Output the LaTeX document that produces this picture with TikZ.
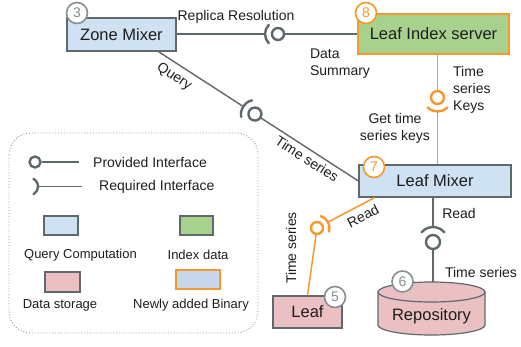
\documentclass[tikz,border=0pt]{standalone}
\usepackage{fontspec}
\setmainfont{Liberation Sans}
\usetikzlibrary{calc}
\definecolor{lgray}{RGB}{95,105,108}
\definecolor{orng}{RGB}{245,152,45}
\definecolor{qblue}{RGB}{207,226,243}
\definecolor{igreen}{RGB}{169,209,142}
\definecolor{spink}{RGB}{234,192,195}
\definecolor{bgray}{RGB}{135,143,146}
\definecolor{nblue}{RGB}{200,216,236}
\definecolor{dotc}{RGB}{130,155,180}
\definecolor{txt}{RGB}{30,30,30}
\begin{document}
\begin{tikzpicture}[x=1pt,y=-1pt,
 box/.style={draw=lgray, line width=1.2pt, inner sep=0pt, text=txt, font=\fontsize{16.5}{18}\selectfont},
 badge/.style={circle, draw=bgray, fill=white, line width=1.6pt, minimum size=21pt, inner sep=0pt, text=bgray, font=\fontsize{14}{16}\selectfont},
 obadge/.style={badge, draw=orng, text=orng},
 ball/.style={circle, fill=white, line width=2.4pt, inner sep=0pt},
 conn/.style={draw=lgray, line width=1.4pt},
 oconn/.style={draw=orng, line width=1.5pt},
 socket/.style={line width=2.4pt, line cap=round},
 lbl/.style={font=\fontsize{14}{17}\selectfont, text=txt, inner sep=0pt},
 leg/.style={font=\fontsize{13}{15}\selectfont, text=txt, inner sep=0pt},
]
\useasboundingbox[fill=white] (0,0) rectangle (521,346);

% main boxes
\node[box, fill=qblue, minimum width=109pt, minimum height=33pt] (zm) at (121.5,34.5) {Zone Mixer};
\node[box, fill=igreen, draw=orng, line width=2.8pt, minimum width=151pt, minimum height=40pt] (lis) at (433.5,34) {Leaf Index server};
\node[box, fill=qblue, minimum width=152pt, minimum height=32pt] (lm) at (435,181) {Leaf Mixer};
\node[box, fill=spink, minimum width=69pt, minimum height=32pt] (leaf) at (307.5,312) {Leaf};

% repository cylinder
\fill[spink] (378,292) -- (378,325) arc[start angle=180, end angle=0, x radius=53.5, y radius=10] -- (485,292) arc[start angle=0, end angle=-180, x radius=53.5, y radius=10] -- cycle;
\draw[lgray, line width=1.2pt] (378,292) -- (378,325) arc[start angle=180, end angle=0, x radius=53.5, y radius=10] -- (485,292);
\draw[lgray, line width=1.2pt] (431.5,292) circle[x radius=53.5, y radius=10];
\node[inner sep=0pt, minimum width=107pt, minimum height=53pt] (repo) at (431.5,308.5) {};
\node[inner sep=0pt, text=txt, font=\fontsize{16.5}{18}\selectfont] (repotxt) at (431.5,316) {Repository};

% interface 1: Zone Mixer -- Leaf Index server
\node[ball, draw=lgray, minimum size=12pt] (b1) at (278,34) {};
\coordinate (a1) at ($(b1)+(180:13)$);
\draw[conn] (zm.east |- b1) -- (a1);
\draw[conn] (b1) -- (lis.west |- b1);
\draw[socket, lgray] ($(b1)+(135:13)$) arc[start angle=135, end angle=225, radius=13];

% interface 2: Leaf Index server -- Leaf Mixer
\node[ball, draw=orng, minimum size=13pt] (b2) at (437.5,97.5) {};
\coordinate (a2) at ($(b2)+(90:14)$);
\draw[oconn] (b2) -- (b2 |- lis.south);
\draw[oconn] (a2) -- (a2 |- lm.north);
\draw[socket, orng] ($(b2)+(45:14)$) arc[start angle=45, end angle=135, radius=14];

% interface 3: Zone Mixer -- Leaf Mixer
\coordinate (p3) at ($(zm.south west)!0.835!(zm.south east)$);
\coordinate (c3) at ($(p3)!0.4826!(lm.west)$);
\coordinate (a3) at ($(c3)!14pt!(p3)$);
\draw[conn] (p3) -- (a3);
\draw[conn] (c3) -- (lm.west);
\node[ball, draw=lgray, minimum size=13pt] (b3) at (c3) {};
\draw[socket, lgray] ($(b3)+(167.9:14)$) arc[start angle=167.9, end angle=257.9, radius=14];

% interface 4: Leaf Mixer -- Leaf
\coordinate (p4) at ($(lm.south west)!0.105!(lm.south east)$);
\node[ball, draw=orng, minimum size=12pt] (b4) at (317,228) {};
\coordinate (a4) at ($(b4)!12.5pt!(p4)$);
\draw[oconn] (p4) -- (a4);
\draw[oconn] (b4) -- (leaf.north);
\draw[socket, orng] ($(b4)+(-73.1:12.5)$) arc[start angle=-73.1, end angle=16.9, radius=12.5];

% interface 5: Leaf Mixer -- Repository
\node[ball, draw=lgray, minimum size=14pt] (b5) at (433,242) {};
\coordinate (a5) at ($(b5)+(-90:15)$);
\draw[conn] (lm.south -| b5) -- (a5);
\draw[conn] (b5) -- (b5 |- repo.north);
\draw[socket, lgray] ($(b5)+(-140:15)$) arc[start angle=-140, end angle=-40, radius=15];

% badges
\node[badge] (n3) at (77,13) {3};
\node[obadge] (n8) at (366,13) {8};
\node[obadge] (n7) at (374,167) {7};
\node[badge] (n5) at (335,297) {5};
\node[badge] (n6) at (402.5,281.5) {6};

% labels
\node[lbl] (lrr) at (236,17) {Replica Resolution};
\node[lbl, align=left] (lds) at (340,63.5) {Data\\Summary};
\node[lbl, align=left, anchor=west] (ltk) at (453,90) {Time\\series\\Keys};
\node[lbl, align=center] (lgt) at (395,128) {Get time\\series keys};
\node[lbl, rotate=-32.9] (lq) at (174,77) {Query};
\node[lbl, rotate=-32.9] (lts1) at (307,159) {Time series};
\node[lbl, rotate=27] (lr1) at (363,216) {Read};
\node[lbl, rotate=90] (lts2) at (291,248) {Time series};
\node[lbl] (lr2) at (459,213) {Read};
\node[lbl] (lts3) at (481,272) {Time series};

% legend
\draw[dotc, dotted, line width=0.9pt, rounded corners=22pt] (9,133) rectangle (258,333);
\node[ball, draw=lgray, minimum size=11pt] (lb) at (35,162) {};
\coordinate (le1) at (79,162);
\draw[lgray, line width=1.2pt] (lb) -- (le1);
\node[leg, anchor=west, font=\fontsize{14}{16}\selectfont] (lpt) at (93,162) {Provided Interface};
\draw[socket, lgray] ($(29,186.5)+(-60:9)$) arc[start angle=-60, end angle=60, radius=9];
\coordinate (ls) at (38,186.5);
\coordinate (le2) at (82,186.5);
\draw[lgray, line width=1.2pt] (ls) -- (le2);
\node[leg, anchor=west, font=\fontsize{14}{16}\selectfont] (lrt) at (99,187) {Required Interface};

\node[box, fill=qblue, minimum width=34pt, minimum height=19pt] (lk1) at (61,225.5) {};
\node[box, fill=igreen, minimum width=33pt, minimum height=19pt] (lk2) at (196.5,225.5) {};
\node[leg] (lt1) at (80.5,255) {Query Computation};
\node[leg] (lt2) at (198,255) {Index data};
\node[box, fill=spink, minimum width=35pt, minimum height=20pt] (lk3) at (62.5,282) {};
\node[box, fill=nblue, draw=orng, line width=2.5pt, minimum width=44pt, minimum height=19pt] (lk4) at (198,279.5) {};
\node[leg] (lt3) at (60,305) {Data storage};
\node[leg] (lt4) at (191,305) {Newly added Binary};
\end{tikzpicture}
\end{document}
